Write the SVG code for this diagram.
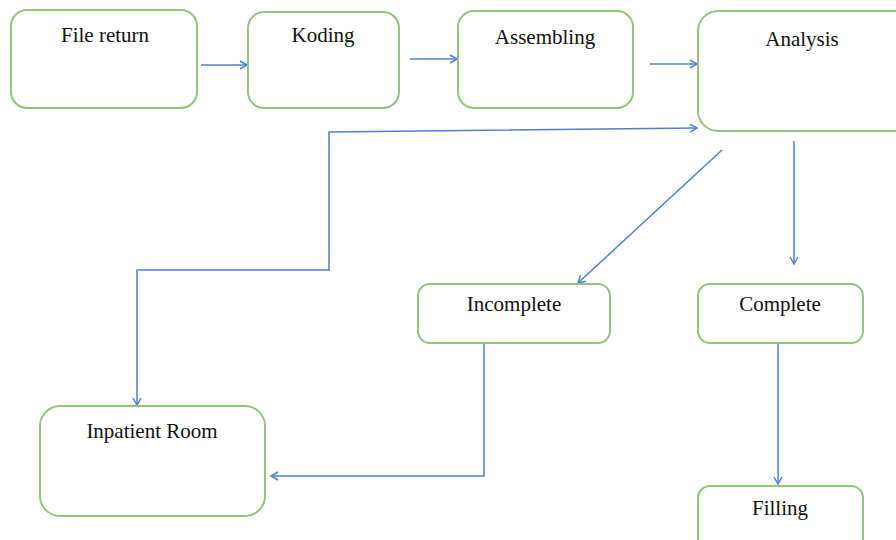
<svg xmlns="http://www.w3.org/2000/svg" width="896" height="540" viewBox="0 0 896 540">
<style>
.box{fill:#fff;stroke:#93c47d;stroke-width:2}
.lbl{font-family:"Liberation Serif",serif;font-size:21px;fill:#111;text-anchor:middle}
.con{fill:none;stroke:#4f7fd6;stroke-width:1.5}
</style>
<defs>
<marker id="ah" markerWidth="10" markerHeight="10" refX="8" refY="5" orient="auto-start-reverse" markerUnits="userSpaceOnUse">
<path d="M1,1 L8,5 L1,9" fill="none" stroke="#4f7fd6" stroke-width="1.5"/>
</marker>
</defs>
<rect width="896" height="540" fill="#fff"/>
<g id="connectors">
<line class="con" x1="201" y1="65" x2="247" y2="65" marker-end="url(#ah)"/>
<line class="con" x1="410" y1="59" x2="457" y2="59" marker-end="url(#ah)"/>
<line class="con" x1="650" y1="64" x2="697" y2="64" marker-end="url(#ah)"/>
<polyline class="con" points="137,405 137,270 329,270 329,132 697,128" marker-start="url(#ah)" marker-end="url(#ah)"/>
<line class="con" x1="722" y1="150" x2="578" y2="283" marker-end="url(#ah)"/>
<line class="con" x1="794" y1="141" x2="794" y2="264" marker-end="url(#ah)"/>
<polyline class="con" points="484,343 484,476 271,476" marker-end="url(#ah)"/>
<line class="con" x1="778" y1="343" x2="778" y2="484" marker-end="url(#ah)"/>
</g>
<g id="file-return"><rect class="box" x="11" y="10" width="186" height="98" rx="16"/><text class="lbl" x="105" y="42">File return</text></g>
<g id="koding"><rect class="box" x="248" y="12" width="151" height="96" rx="16"/><text class="lbl" x="323" y="42">Koding</text></g>
<g id="assembling"><rect class="box" x="458" y="11" width="175" height="97" rx="16"/><text class="lbl" x="545" y="44">Assembling</text></g>
<g id="analysis"><rect class="box" x="698" y="11" width="220" height="120" rx="20"/><text class="lbl" x="802" y="46">Analysis</text></g>
<g id="incomplete"><rect class="box" x="418" y="284" width="192" height="59" rx="12"/><text class="lbl" x="514" y="311">Incomplete</text></g>
<g id="complete"><rect class="box" x="698" y="284" width="165" height="59" rx="12"/><text class="lbl" x="780" y="311">Complete</text></g>
<g id="inpatient-room"><rect class="box" x="40" y="406" width="225" height="110" rx="20"/><text class="lbl" x="152" y="438">Inpatient Room</text></g>
<g id="filling"><rect class="box" x="698" y="486" width="165" height="70" rx="12"/><text class="lbl" x="780" y="515">Filling</text></g>
</svg>
